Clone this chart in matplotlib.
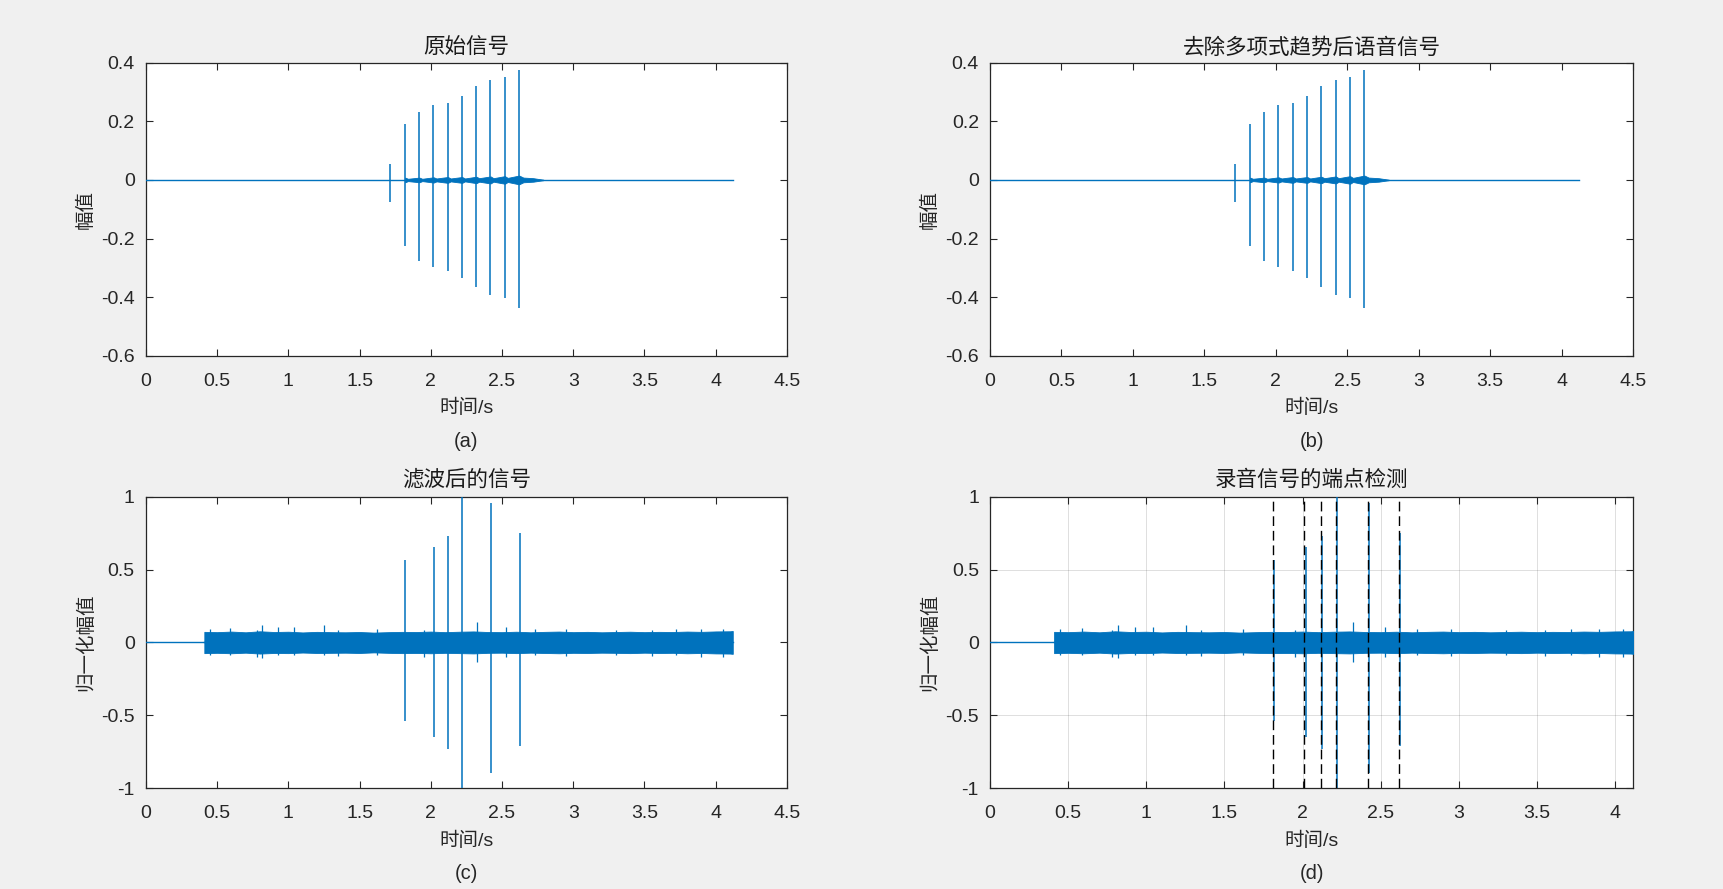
import numpy as np
import matplotlib
matplotlib.use('Agg')
import matplotlib.pyplot as plt

plt.rcParams['font.family'] = ['Liberation Sans', 'Noto Sans CJK SC']
plt.rcParams['axes.unicode_minus'] = False

# ---- data ----
signal_end = 4.12          # length of the recording (s)
filt_start = 0.408         # where the filtered signal starts (c, d)

# (a)/(b) raw signal: the clicks
spike_t_raw = [1.717, 1.816, 1.920, 2.017, 2.121, 2.221, 2.319, 2.419, 2.520, 2.620]
spike_hi_raw = [0.056, 0.192, 0.233, 0.254, 0.262, 0.285, 0.319, 0.342, 0.350, 0.374]
spike_lo_raw = [-0.074, -0.224, -0.276, -0.296, -0.309, -0.334, -0.364, -0.392, -0.404, -0.435]

# (a)/(b) low-level noise envelope after the first click
env_t_raw = [1.82, 1.84, 1.92, 1.94, 2.02, 2.04, 2.12, 2.14, 2.22, 2.24, 2.32,
             2.34, 2.42, 2.44, 2.52, 2.54, 2.62, 2.65, 2.72, 2.76, 2.79]
env_hi_raw = [0.008, 0.004, 0.008, 0.004, 0.009, 0.005, 0.010, 0.005, 0.010, 0.005, 0.011,
              0.006, 0.012, 0.006, 0.013, 0.007, 0.015, 0.008, 0.006, 0.003, 0.001]
env_lo_raw = [-0.008, -0.004, -0.008, -0.004, -0.009, -0.005, -0.010, -0.005, -0.010, -0.005, -0.011,
              -0.006, -0.012, -0.006, -0.013, -0.007, -0.015, -0.008, -0.006, -0.003, -0.001]

# (c)/(d) normalised filtered signal
spike_t_f = [1.819, 2.020, 2.124, 2.221, 2.422, 2.623]
spike_hi_f = [0.565, 0.654, 0.729, 1.0, 0.955, 0.752]
spike_lo_f = [-0.537, -0.647, -0.729, -1.0, -0.894, -0.711]

env_t_f = [0.41, 0.5, 0.6, 0.7, 0.8, 0.9, 1.0, 1.1, 1.2, 1.3, 1.4, 1.5, 1.6, 1.7, 1.8, 1.9, 2.0,
           2.1, 2.2, 2.3, 2.4, 2.5, 2.6, 2.7, 2.8, 2.9, 3.0, 3.1, 3.2, 3.3, 3.4, 3.5, 3.6, 3.7,
           3.8, 3.9, 4.0, 4.1, 4.12]
env_hi_f = [0.072, 0.070, 0.074, 0.069, 0.076, 0.071, 0.073, 0.068, 0.072, 0.070, 0.069, 0.071,
            0.067, 0.070, 0.072, 0.071, 0.074, 0.070, 0.073, 0.075, 0.071, 0.070, 0.073, 0.069,
            0.072, 0.074, 0.070, 0.072, 0.069, 0.071, 0.073, 0.070, 0.072, 0.071, 0.074, 0.072,
            0.075, 0.076, 0.078]
env_lo_f = [-0.074, -0.072, -0.075, -0.071, -0.077, -0.073, -0.074, -0.070, -0.073, -0.072,
            -0.071, -0.073, -0.069, -0.072, -0.074, -0.073, -0.075, -0.072, -0.074, -0.076,
            -0.072, -0.071, -0.074, -0.071, -0.073, -0.075, -0.072, -0.073, -0.071, -0.072,
            -0.074, -0.071, -0.073, -0.072, -0.075, -0.073, -0.076, -0.077, -0.079]

# bigger noise peaks sticking out of the band
peak_t_f = [0.45, 0.59, 0.78, 0.817, 0.93, 1.04, 1.252, 1.35, 1.62, 1.95, 2.324,
            2.528, 2.73, 2.95, 3.3, 3.55, 3.72, 3.9, 4.05]
peak_hi_f = [0.090, 0.096, 0.085, 0.119, 0.103, 0.103, 0.119, 0.085, 0.090, 0.088, 0.137,
             0.103, 0.095, 0.090, 0.088, 0.086, 0.095, 0.090, 0.092]
peak_lo_f = [-0.085, -0.090, -0.100, -0.110, -0.090, -0.085, -0.088, -0.095, -0.090, -0.100,
             -0.133, -0.099, -0.090, -0.095, -0.090, -0.094, -0.088, -0.100, -0.098]

# (d) detected endpoints
endpoints = [1.814, 2.012, 2.120, 2.216, 2.417, 2.615]

titles = ['原始信号', '去除多项式趋势后语音信号', '滤波后的信号', '录音信号的端点检测']
ylabels = ['幅值', '幅值', '归一化幅值', '归一化幅值']
tags = ['(a)', '(b)', '(c)', '(d)']

blue = '#0072BD'
dark = '#262626'

fig = plt.figure(figsize=(17.23, 8.89), dpi=100, facecolor='#f0f0f0')
positions = [[0.0847, 0.5996, 0.3720, 0.3300],
             [0.5746, 0.5996, 0.3732, 0.3300],
             [0.0847, 0.1136, 0.3720, 0.3277],
             [0.5746, 0.1136, 0.3732, 0.3277]]
axes = [fig.add_axes(p) for p in positions]


def draw_wave(ax, start, env_t, env_hi, env_lo, spk_t, spk_hi, spk_lo):
    ax.plot([0, start], [0, 0], color=blue, lw=1.0, zorder=3)
    ax.plot([start, signal_end], [0, 0], color=blue, lw=1.0, zorder=3)
    ax.fill_between(env_t, env_lo, env_hi, color=blue, lw=0.6, zorder=3)
    ax.vlines(spk_t, spk_lo, spk_hi, color=blue, lw=1.1, zorder=3)


# (a), (b)
for ax in axes[:2]:
    draw_wave(ax, 0, env_t_raw, env_hi_raw, env_lo_raw, spike_t_raw, spike_hi_raw, spike_lo_raw)
    ax.set_xlim(0, 4.5)
    ax.set_ylim(-0.6, 0.4)
    ax.set_xticks(np.arange(0, 4.51, 0.5))
    ax.set_yticks([-0.6, -0.4, -0.2, 0, 0.2, 0.4])
    ax.set_yticklabels(['-0.6', '-0.4', '-0.2', '0', '0.2', '0.4'])

# (c), (d)
for ax in axes[2:]:
    draw_wave(ax, filt_start, env_t_f, env_hi_f, env_lo_f, spike_t_f, spike_hi_f, spike_lo_f)
    ax.vlines(peak_t_f, peak_lo_f, peak_hi_f, color=blue, lw=0.9, zorder=3)
    ax.set_ylim(-1, 1)
    ax.set_yticks([-1, -0.5, 0, 0.5, 1])
    ax.set_yticklabels(['-1', '-0.5', '0', '0.5', '1'])

axes[2].set_xlim(0, 4.5)
axes[2].set_xticks(np.arange(0, 4.51, 0.5))
axes[3].set_xlim(0, 4.115)
axes[3].set_xticks(np.arange(0, 4.01, 0.5))
axes[3].grid(True, color=dark, alpha=0.15, lw=0.7, zorder=0)
axes[3].vlines(endpoints, -1, 1, colors='k', linestyles=(0, (7, 3.5)), lw=1.0, zorder=4)

for i, ax in enumerate(axes):
    ax.set_facecolor('white')
    ax.set_xticklabels(['0' if v == 0 else f'{v:g}' for v in ax.get_xticks()])
    for s in ax.spines.values():
        s.set_color(dark)
        s.set_linewidth(0.9)
    ax.tick_params(direction='in', top=True, right=True, length=5, width=0.8,
                   colors=dark, labelsize=14)
    ax.tick_params(axis='x', pad=12)
    ax.tick_params(axis='y', pad=8)
    top_row = i < 2
    ax.text(0.5, 1.048 if top_row else 1.056, titles[i], transform=ax.transAxes,
            ha='center', va='center', fontsize=15.5, color='#1a1a1a')
    ax.set_xlabel('时间/s', fontsize=14, color=dark)
    ax.xaxis.label.set_verticalalignment('center')
    ax.xaxis.set_label_coords(0.5, -0.176 if top_row else -0.181)
    ax.set_ylabel(ylabels[i], fontsize=14, color=dark)
    ax.yaxis.label.set_verticalalignment('center')
    ax.yaxis.set_label_coords(-0.094, 0.5)
    ax.text(0.5, -0.292 if top_row else -0.294, tags[i], transform=ax.transAxes,
            ha='center', va='center', fontsize=14.5, color=dark)

fig.savefig('out.png', dpi=100, facecolor=fig.get_facecolor())
